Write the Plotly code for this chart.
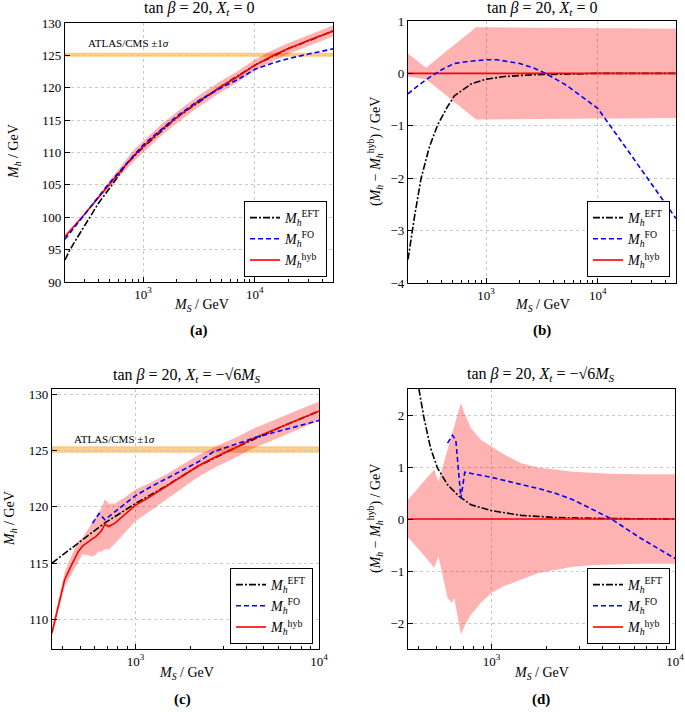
import math
import plotly.graph_objects as go

# ---------------- data: panels (a) and (b) ----------------
X_AB = [200, 250, 290, 400, 500, 600, 813, 1000, 1500, 2000, 3000, 5000, 7000,
        10000, 15000, 20000, 30000, 50000]
HYB_A = [97.0, 98.9, 100.2, 103.1, 105.1, 106.8, 109.4, 110.9, 113.7, 115.4, 117.7,
         120.2, 121.7, 123.5, 125.1, 126.05, 127.3, 128.75]
UNC_HI_AB = [0.38, 0.22, 0.11, 0.35, 0.52, 0.65, 0.88, 0.88, 0.875, 0.87, 0.87, 0.87,
             0.865, 0.86, 0.86, 0.855, 0.85, 0.85]
UNC_LO_AB = [-0.06, -0.09, -0.11, -0.35, -0.52, -0.65, -0.88, -0.88, -0.875, -0.87,
             -0.87, -0.87, -0.865, -0.86, -0.86, -0.855, -0.85, -0.85]

EFT_A_X = [200, 220, 250, 310, 400, 538, 700, 1000, 2000, 5000, 10000, 20000, 50000]
EFT_A = [93.4, 94.9, 96.5, 99.2, 102.2, 105.2, 108.1, 110.8, 115.4, 120.2, 123.5,
         126.05, 128.75]
FO_A_X = [200, 300, 500, 1000, 2000, 3000, 5000, 7000, 10000, 15000, 20000, 30000, 50000]
FO_A = [96.6, 100.4, 105.3, 111.15, 115.6, 117.8, 120.0, 121.25, 122.85, 123.9,
        124.5, 125.2, 126.0]

FO_B_X = [200, 250, 300, 350, 400, 520, 700, 1000, 1250, 2000, 2700, 3400, 5000,
          6000, 10000, 20000, 50000]
FO_B = [-0.39, -0.22, -0.1, 0.0, 0.07, 0.19, 0.23, 0.26, 0.26, 0.19, 0.10, 0.0,
        -0.2, -0.32, -0.67, -1.57, -2.77]
EFT_B_X = [200, 215, 230, 262, 311, 369, 450, 520, 735, 1000, 1460, 2700, 5000,
           10000, 50000]
EFT_B = [-3.55, -3.1, -2.7, -2.0, -1.4, -0.98, -0.64, -0.43, -0.2, -0.11, -0.06,
         -0.025, -0.01, 0.0, 0.0]

# ---------------- data: panels (c) and (d) ----------------
X_CD = [350, 380, 410, 440, 486, 513, 545, 575, 607, 625, 650, 680, 714, 771, 875,
        1000, 1173, 1448, 1800, 2203, 2774, 3500, 4400, 6400, 10000]
HYB_C = [108.8, 111.4, 113.5, 114.6, 116.0, 116.5, 116.85, 117.1, 117.35, 117.55,
         117.85, 118.45, 118.25, 118.55, 119.33, 120.15, 120.8, 121.75, 122.75,
         123.65, 124.5, 125.25, 126.1, 127.2, 128.5]
UNC_HI_CD = [0.37, 0.515, 0.65, 0.78, 0.95, 0.72, 1.04, 1.33, 1.62, 1.78, 1.99, 2.23,
             2.02, 1.75, 1.52, 1.39, 1.24, 1.07, 0.99, 0.95, 0.91, 0.89, 0.87, 0.86,
             0.86]
UNC_LO_CD = [-0.35, -0.49, -0.62, -0.75, -0.94, -0.72, -1.14, -1.52, -1.61, -1.52,
             -1.84, -2.22, -2.05, -1.84, -1.61, -1.42, -1.29, -1.16, -1.04, -0.98,
             -0.92, -0.89, -0.88, -0.86, -0.86]

EFT_C_X = [350, 450, 594, 670, 1000, 1450, 2200, 3500, 6400, 10000]
EFT_C = [115.0, 116.33, 117.8, 118.5, 120.3, 121.8, 123.63, 125.25, 127.2, 128.5]
FO_C_X = [582, 632, 680, 725, 1000, 1206, 2254, 2666, 4580, 9900, 10000]
FO_C = [118.53, 119.4, 118.85, 119.2, 121.0, 121.76, 124.1, 124.9, 126.2, 127.65,
        127.7]

FO_D_X = [575, 612, 638, 680, 714, 1000, 1824, 2203, 2774, 4406, 6430, 10000]
FO_D = [1.46, 1.61, 1.52, 0.40, 0.90, 0.80, 0.58, 0.50, 0.37, 0.02, -0.36, -0.76]
EFT_D_X = [390, 428, 465, 507, 575, 665, 771, 1000, 1448, 2203, 4000, 10000]
EFT_D = [2.75, 1.94, 1.36, 0.98, 0.66, 0.435, 0.275, 0.16, 0.07, 0.03, 0.01, 0.0]

ATLAS_CMS = [124.85, 125.33]
MAJOR_X = [1000, 10000]
MAJOR_X_TEXT = ["10<sup>3</sup>", "10<sup>4</sup>"]
MINOR_AB = [200, 300, 400, 500, 600, 700, 800, 900, 2000, 3000, 4000, 5000, 6000,
            7000, 8000, 9000, 20000, 30000, 40000, 50000]
MINOR_CD = [400, 500, 600, 700, 800, 900, 2000, 3000, 4000, 5000, 6000, 7000, 8000,
            9000]

FONT = "Liberation Serif"
RED = "#ff0000"
BLUE = "#0000ff"
BLACK = "#000000"
BANDCOL = "rgba(255,0,0,0.30)"

LEG_EFT = "<i>M</i><sub><i>h</i></sub><sup>EFT</sup>"
LEG_FO = "<i>M</i><sub><i>h</i></sub><sup>FO</sup>"
LEG_HYB = "<i>M</i><sub><i>h</i></sub><sup>hyb</sup>"

fig = go.Figure()


def add_panel(k, bx, lo, hi, hyb_x, hyb_y, eft_x, eft_y, fo_x, fo_y):
    xa = "x" if k == 1 else f"x{k}"
    ya = "y" if k == 1 else f"y{k}"
    leg = "legend" if k == 1 else f"legend{k}"
    fig.add_trace(go.Scatter(x=bx, y=lo, mode="lines", line=dict(width=0),
                             showlegend=False, hoverinfo="skip", xaxis=xa, yaxis=ya))
    fig.add_trace(go.Scatter(x=bx, y=hi, mode="lines", line=dict(width=0),
                             fill="tonexty", fillcolor=BANDCOL, showlegend=False,
                             hoverinfo="skip", xaxis=xa, yaxis=ya))
    fig.add_trace(go.Scatter(x=eft_x, y=eft_y, mode="lines", name=LEG_EFT,
                             line=dict(color=BLACK, width=1.6, dash="7px,2px,2px,2px"),
                             legend=leg, legendrank=1, xaxis=xa, yaxis=ya))
    fig.add_trace(go.Scatter(x=hyb_x, y=hyb_y, mode="lines", name=LEG_HYB,
                             line=dict(color=RED, width=1.6), legend=leg,
                             legendrank=3, xaxis=xa, yaxis=ya))
    fig.add_trace(go.Scatter(x=fo_x, y=fo_y, mode="lines", name=LEG_FO,
                             line=dict(color=BLUE, width=1.6, dash="5px,3px"),
                             legend=leg, legendrank=2, xaxis=xa, yaxis=ya))


band_a_lo = [h + u for h, u in zip(HYB_A, UNC_LO_AB)]
band_a_hi = [h + u for h, u in zip(HYB_A, UNC_HI_AB)]
add_panel(1, X_AB, band_a_lo, band_a_hi, X_AB, HYB_A, EFT_A_X, EFT_A, FO_A_X, FO_A)

zero_ab = [0.0 for _ in X_AB]
add_panel(2, X_AB, UNC_LO_AB, UNC_HI_AB, X_AB, zero_ab, EFT_B_X, EFT_B, FO_B_X, FO_B)

band_c_lo = [h + u for h, u in zip(HYB_C, UNC_LO_CD)]
band_c_hi = [h + u for h, u in zip(HYB_C, UNC_HI_CD)]
add_panel(3, X_CD, band_c_lo, band_c_hi, X_CD, HYB_C, EFT_C_X, EFT_C, FO_C_X, FO_C)

zero_cd = [0.0 for _ in X_CD]
add_panel(4, X_CD, UNC_LO_CD, UNC_HI_CD, X_CD, zero_cd, EFT_D_X, EFT_D, FO_D_X, FO_D)

W, H = 685, 712


def px(xp):
    return xp / W


def py(yp):
    return 1 - yp / H


domains = {
    1: ([65, 333], [23, 282]),
    2: ([408, 676], [21, 283]),
    3: ([52, 319], [389, 649]),
    4: ([408, 675], [389, 649]),
}
xranges = {
    1: [math.log10(200), math.log10(50000)],
    2: [math.log10(200), math.log10(50000)],
    3: [math.log10(350), 4],
    4: [math.log10(350), 4],
}
yranges = {1: [90, 130], 2: [-4, 1], 3: [107.36, 130.47], 4: [-2.5, 2.5]}
ydtick = {1: 5, 2: 1, 3: 5, 4: 1}
minors = {1: MINOR_AB, 2: MINOR_AB, 3: MINOR_CD, 4: MINOR_CD}

axis_common = dict(showline=True, linecolor="black", linewidth=1.2, mirror=True,
                   ticks="inside", ticklen=5, tickcolor="black", automargin=False,
                   showgrid=True, gridcolor="#c8c8c8", griddash="dot", gridwidth=1,
                   zeroline=False, tickfont=dict(family=FONT, size=13, color="black"))

layout_axes = {}
for k in range(1, 5):
    (x0, x1), (y0, y1) = domains[k]
    xn = "xaxis" if k == 1 else f"xaxis{k}"
    yn = "yaxis" if k == 1 else f"yaxis{k}"
    xa = "x" if k == 1 else f"x{k}"
    ya = "y" if k == 1 else f"y{k}"
    layout_axes[xn] = dict(axis_common, type="log", range=xranges[k],
                           domain=[px(x0), px(x1)], anchor=ya,
                           tickmode="array", tickvals=MAJOR_X, ticktext=MAJOR_X_TEXT,
                           minor=dict(tickmode="array", tickvals=minors[k],
                                      ticks="inside", ticklen=3, tickcolor="black",
                                      showgrid=False))
    layout_axes[yn] = dict(axis_common, range=yranges[k], domain=[py(y1), py(y0)],
                           anchor=xa, dtick=ydtick[k], tick0=0)

fig.update_layout(**layout_axes)

# ATLAS/CMS bands
shapes = []
for k in (1, 3):
    xr = "x domain" if k == 1 else f"x{k} domain"
    yr = "y" if k == 1 else f"y{k}"
    shapes.append(dict(type="rect", xref=xr, yref=yr, x0=0, x1=1,
                       y0=ATLAS_CMS[0], y1=ATLAS_CMS[1],
                       fillcolor="rgba(255,170,30,0.55)",
                       line=dict(color="rgba(240,160,40,0.7)", width=0.6),
                       layer="below"))

ann = []
tfont = dict(family=FONT, size=16, color="black")
lfont = dict(family=FONT, size=14, color="black")
title_ab = "tan <i>β</i> = 20, <i>X</i><sub><i>t</i></sub> = 0"
title_cd = "tan <i>β</i> = 20, <i>X</i><sub><i>t</i></sub> = −√6<i>M</i><sub><i>S</i></sub>"
ylab_abs = "<i>M</i><sub><i>h</i></sub> / GeV"
ylab_diff = ("(<i>M</i><sub><i>h</i></sub> − <i>M</i><sub><i>h</i></sub>"
             "<sup>hyb</sup>) / GeV")
xlab = "<i>M</i><sub><i>S</i></sub> / GeV"

for (x, y, t) in [(199, 9, title_ab), (542, 9, title_ab),
                  (187, 375, title_cd), (541, 374, title_cd)]:
    ann.append(dict(text=t, x=px(x), y=py(y), xref="paper", yref="paper",
                    showarrow=False, font=tfont, xanchor="center", yanchor="middle"))
for (x, y) in [(201, 305), (542, 305), (186, 673), (541, 673)]:
    ann.append(dict(text=xlab, x=px(x), y=py(y), xref="paper", yref="paper",
                    showarrow=False, font=lfont, xanchor="center", yanchor="middle"))
for (x, y, t) in [(15, 152, ylab_abs), (375, 152, ylab_diff),
                  (10, 519, ylab_abs), (375, 519, ylab_diff)]:
    ann.append(dict(text=t, x=px(x), y=py(y), xref="paper", yref="paper",
                    showarrow=False, font=lfont, textangle=-90,
                    xanchor="center", yanchor="middle"))
for (x, y, t) in [(199, 330, "(a)"), (542, 330, "(b)"), (183, 699, "(c)"),
                  (541, 699, "(d)")]:
    ann.append(dict(text=f"<b>{t}</b>", x=px(x), y=py(y), xref="paper", yref="paper",
                    showarrow=False, font=dict(family=FONT, size=15, color="black"),
                    xanchor="center", yanchor="middle"))
# ATLAS/CMS labels
ann.append(dict(text="ATLAS/CMS ±1<i>σ</i>", x=0.078, y=126.9, xref="x domain",
                yref="y", showarrow=False, xanchor="left", yanchor="middle",
                font=dict(family=FONT, size=11, color="black")))
ann.append(dict(text="ATLAS/CMS ±1<i>σ</i>", x=0.074, y=126.0, xref="x3 domain",
                yref="y3", showarrow=False, xanchor="left", yanchor="middle",
                font=dict(family=FONT, size=11, color="black")))

legend_style = dict(bgcolor="white", bordercolor="black", borderwidth=1,
                    font=dict(family=FONT, size=14, color="black"),
                    xanchor="right", yanchor="bottom", tracegroupgap=0,
                    itemwidth=30, traceorder="normal")
fig.update_layout(
    width=W, height=H, margin=dict(l=0, r=0, t=0, b=0, autoexpand=False),
    paper_bgcolor="white", plot_bgcolor="white",
    font=dict(family=FONT, color="black"),
    shapes=shapes, annotations=ann,
    legend=dict(legend_style, x=px(327), y=py(277)),
    legend2=dict(legend_style, x=px(670), y=py(277)),
    legend3=dict(legend_style, x=px(313), y=py(644)),
    legend4=dict(legend_style, x=px(670), y=py(644)),
)

fig.write_html("out.html",
               config={"displayModeBar": False},
               post_script="document.body.style.margin='0px';"
                           "document.body.style.overflow='hidden';")
